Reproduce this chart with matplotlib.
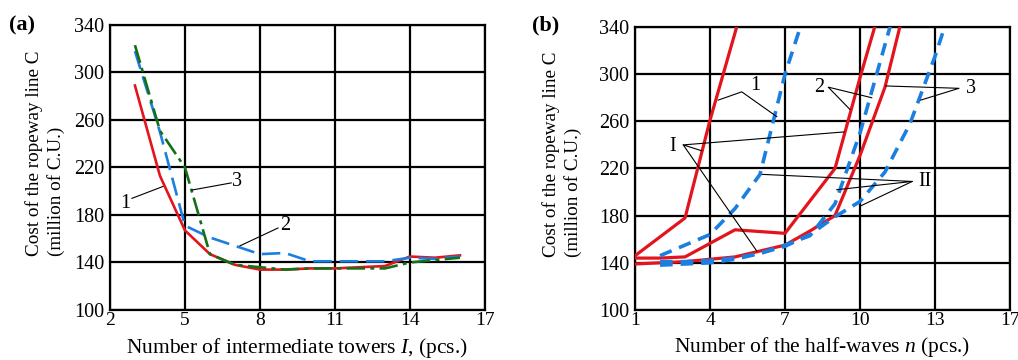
import numpy as np
import matplotlib
matplotlib.use("Agg")
import matplotlib.pyplot as plt

plt.rcParams['font.family'] = ['Liberation Serif', 'DejaVu Serif']
plt.rcParams['mathtext.fontset'] = 'custom'
plt.rcParams['mathtext.rm'] = 'Liberation Serif'
plt.rcParams['mathtext.it'] = 'Liberation Serif:italic'

# ---- panel (a): cost vs number of intermediate towers ----
towers = [3, 4, 5, 6, 7, 8, 9, 10, 11, 12, 13, 14, 15, 16]
cost_a1 = [289, 213, 167, 147, 138, 134, 134, 135, 135, 136, 137, 145, 144, 146]
cost_a2 = [318, 250, 171, 161, 154, 147, 148, 141, 141, 141, 141, 144, 143, 145]
cost_a3 = [323, 251, 220, 147, 138, 136, 134, 135, 135, 135, 135, 140, 142, 144]

# ---- panel (b): cost vs number of half-waves ----
n_A = [1, 3, 4, 5, 6]
cost_A = [146, 178, 261, 335, 410]
n_B = [1, 2, 3, 5, 7, 9, 10, 11]
cost_B = [144, 144, 145, 168, 165, 220, 297, 370]
n_C = [1, 2, 3, 4, 5, 6, 7, 8, 9, 10, 11, 12]
cost_C = [139, 140, 141, 143, 145, 150, 155, 167, 180, 231, 289, 375]
n_D = [2, 3, 4, 5, 6, 7, 8]
cost_D = [146, 155, 164, 186, 215, 300, 365]
n_E = [2, 3, 4, 5, 6, 7, 8, 9, 10, 11, 12]
cost_E = [141, 141, 142, 144, 148, 155, 163, 190, 250, 325, 400]
n_F = [2, 3, 4, 5, 6, 7, 8, 9, 10, 11, 12, 13, 14]
cost_F = [138, 139, 140, 143, 148, 154, 164, 179, 192, 217, 258, 315, 380]

y_ticks = [100, 140, 180, 220, 260, 300, 340]
xa_ticks = [2, 5, 8, 11, 14, 17]
xb_ticks = [1, 4, 7, 10, 13, 16]
xb_labels = ['1', '4', '7', '10', '13', '17']

RED = '#e3141c'
BLUE = '#1a7fe0'
GREEN = '#137018'

fig = plt.figure(figsize=(10.18, 3.6), dpi=100)
ax_a = fig.add_axes([0.108, 0.139, 0.3684, 0.7916])
ax_b = fig.add_axes([0.6238, 0.139, 0.3683, 0.786])

ylabel = "Cost of the ropeway line C\n(million of C.U.)"

for ax in (ax_a, ax_b):
    ax.set_ylim(100, 340)
    ax.set_yticks(y_ticks)
    ax.grid(True, color='black', linewidth=1.6)
    ax.set_axisbelow(True)
    ax.tick_params(length=0, labelsize=14.5, pad=4)
    ax.tick_params(axis='x', labelsize=14, pad=1.5)
    for s in ax.spines.values():
        s.set_linewidth(1.6)
    ax.set_ylabel(ylabel, fontsize=13.8, linespacing=1.3, multialignment='left')

# panel (a)
ax_a.set_xlim(2, 17)
ax_a.set_xticks(xa_ticks)
ax_a.plot(towers, cost_a1, color=RED, lw=1.9, zorder=3)
ax_a.plot(towers, cost_a2, color=BLUE, lw=1.9, dashes=(7, 3), zorder=3)
ax_a.plot(towers, cost_a3, color=GREEN, lw=1.9, dashes=(7, 2, 1.5, 2), zorder=3)
ax_a.set_xlabel("Number of intermediate towers $\\mathit{I}$, (pcs.)", fontsize=15.5)

lk = dict(color='black', lw=0.8, zorder=4)
tk = dict(fontsize=14.5, ha='center', va='center', zorder=5)
ax_a.plot([2.88, 4.12], [194, 204], **lk)
ax_a.text(2.62, 190, '1', **tk)
ax_a.plot([6.85, 5.28], [207, 201], **lk)
ax_a.text(7.1, 208, '3', **tk)
ax_a.plot([8.72, 7.2], [169, 154], **lk)
ax_a.text(9.0, 171, '2', **tk)

# panel (b)
ax_b.set_xlim(1, 16)
ax_b.set_xticks(xb_ticks)
ax_b.set_xticklabels(xb_labels)
for n, c in ((n_A, cost_A), (n_B, cost_B), (n_C, cost_C)):
    ax_b.plot(n, c, color=RED, lw=2.3, zorder=3)
for n, c in ((n_D, cost_D), (n_E, cost_E), (n_F, cost_F)):
    ax_b.plot(n, c, color=BLUE, lw=2.6, dashes=(3.5, 2.2), zorder=3)
ax_b.set_xlabel("Number of the half-waves $\\mathit{n}$ (pcs.)", fontsize=15.5)

for ax in (ax_a, ax_b):
    ax.xaxis.label.set_va('bottom')
    ax.xaxis.set_label_coords(0.5, -0.175)
ax_a.yaxis.set_label_coords(-0.12, 0.549)
ax_b.yaxis.set_label_coords(-0.142, 0.549)

# leaders "1"
ax_b.plot([4.33, 5.27, 6.67], [278, 285, 264], **lk)
ax_b.text(5.8, 290, '1', **tk)
# leaders "I"
ax_b.plot([3.67, 2.93, 9.36], [235, 240, 251], **lk)
ax_b.plot([2.93, 5.87], [240, 150], **lk)
ax_b.text(2.5, 239, 'I', **tk)
# leaders "2"
ax_b.plot([9.6, 8.73, 10.47], [270, 289, 280], **lk)
ax_b.text(8.35, 289, '2', **tk)
# leaders "3"
ax_b.plot([11.03, 13.96, 12.43], [290, 288, 278], **lk)
ax_b.text(14.45, 288, '3', **tk)
# leaders "II"
ax_b.plot([6.09, 12.09, 9.07], [215, 209, 202], **lk)
ax_b.plot([12.09, 10.0], [209, 188], **lk)
ax_b.text(12.6, 209, 'II', **tk)

fig.text(22 / 1018, 1 - 25 / 360, '(a)', fontsize=16, fontweight='bold', ha='center', va='center')
fig.text(546 / 1018, 1 - 25 / 360, '(b)', fontsize=16, fontweight='bold', ha='center', va='center')

fig.savefig('out.png', dpi=100)
